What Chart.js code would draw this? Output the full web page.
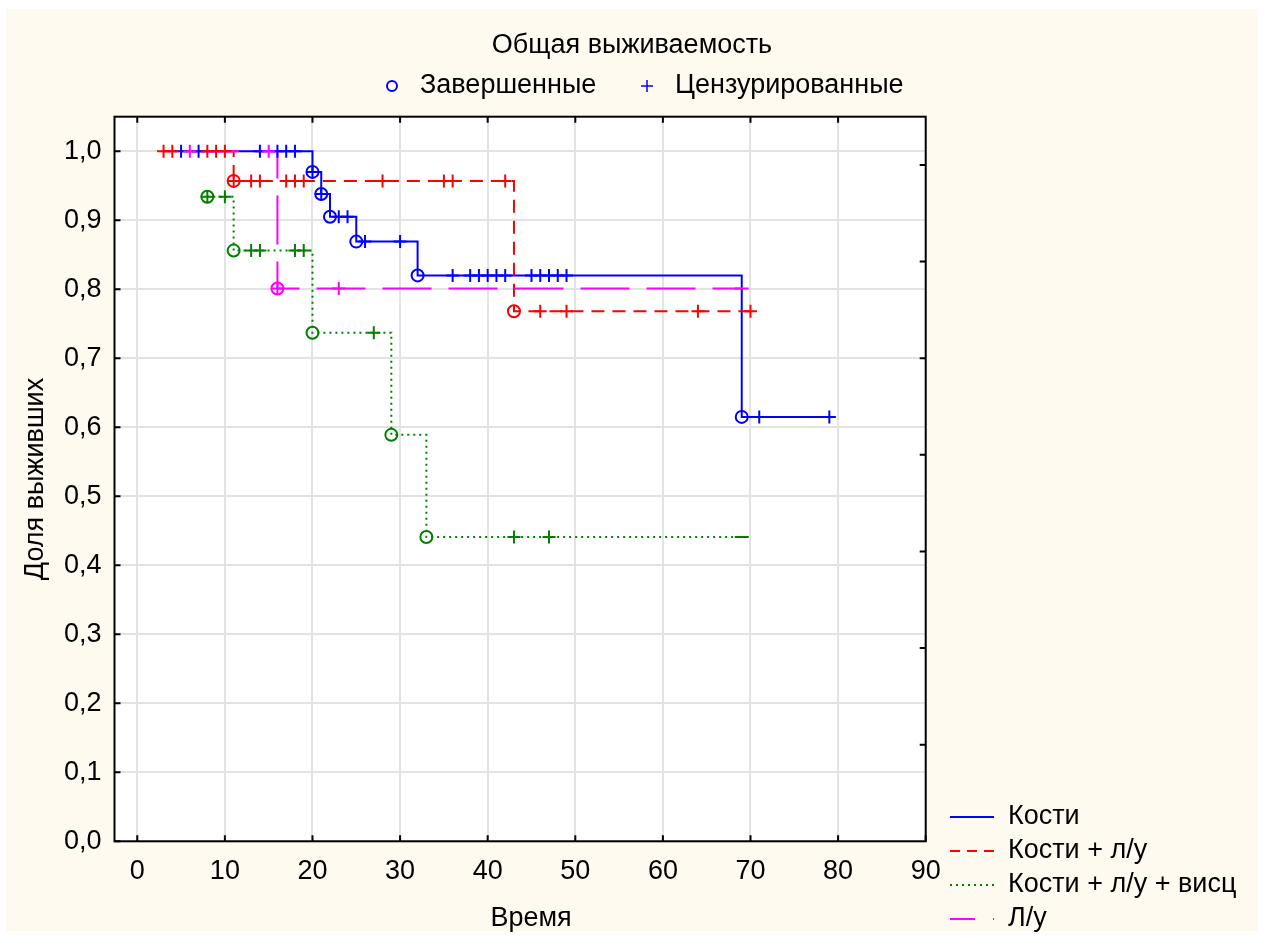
<!DOCTYPE html>
<html>
<head>
<meta charset="utf-8">
<title>Общая выживаемость</title>
<script src="https://cdn.jsdelivr.net/npm/chart.js@4.4.0/dist/chart.umd.min.js"></script>
<style>
  html, body { margin: 0; padding: 0; background: #ffffff; }
  canvas { display: block; }
</style>
</head>
<body>
<canvas id="km" width="1264" height="941"></canvas>
<script>
// ---- Kaplan–Meier curves: step points (time, proportion surviving after that time) ----
const bonesTimes    = [5, 20, 21, 22, 25, 32, 69, 79];
const bonesSurv     = [1.0, 0.970, 0.938, 0.905, 0.869, 0.820, 0.615, 0.615];
const bonesEvents   = [20, 21, 22, 25, 32, 69];
const bonesCensored = [5, 7, 14, 16, 17, 18, 20, 21, 23, 24, 26, 30, 36, 38, 39, 40, 41, 42, 45, 46, 47, 48, 49, 71, 79];

const bonesLnTimes    = [3, 11, 43, 70];
const bonesLnSurv     = [1.0, 0.957, 0.768, 0.768];
const bonesLnEvents   = [11, 43];
const bonesLnCensored = [3, 4, 8, 9, 10, 11, 13, 14, 17, 18, 19, 28, 35, 36, 42, 46, 49, 64, 70];

const visceralTimes    = [8, 11, 20, 29, 33, 69];
const visceralSurv     = [0.934, 0.856, 0.737, 0.589, 0.441, 0.441];
const visceralEvents   = [8, 11, 20, 29, 33];
const visceralCensored = [8, 10, 13, 14, 18, 19, 27, 43, 47];
const visceralEnd      = [69];

const lnTimes    = [6, 16, 69];
const lnSurv     = [1.0, 0.801, 0.801];
const lnEvents   = [16];
const lnCensored = [6, 15, 16, 23];
const lnEnd      = [69];

// ---- axis ticks ----
const xTicks     = [0, 10, 20, 30, 40, 50, 60, 70, 80, 90];
const topTicks   = [0, 10, 20, 30, 40, 50, 60, 70, 80];
const yTicks     = [0, 0.1, 0.2, 0.3, 0.4, 0.5, 0.6, 0.7, 0.8, 0.9, 1.0];
const rightTicks = [0.14, 0.28, 0.42, 0.56, 0.70, 0.84, 0.98];

// ---- texts ----
const chartTitle  = 'Общая выживаемость';
const markerNames = ['Завершенные', 'Цензурированные'];
const groupNames  = ['Кости', 'Кости + л/у', 'Кости + л/у + висц', 'Л/у'];
const xTitle = 'Время';
const yTitle = 'Доля выживших';

const FONT = '"Liberation Sans", Arial, "DejaVu Sans", sans-serif';
const FONT_SIZE = 27;
const BLUE = '#0000ff', RED = '#ff0000', GREEN = '#008000', MAGENTA = '#ff00ff';

// survival level in effect at time t (value of the latest step at or before t)
function levelAt(times, surv, t) {
  let v = surv[0];
  for (let i = 0; i < times.length; i++) if (times[i] <= t) v = surv[i];
  return v;
}

function stepLine(label, times, surv, color, dash, order) {
  return {
    type: 'line', label, order,
    data: times.map((t, i) => ({ x: t, y: surv[i] })),
    borderColor: color, borderWidth: 2, borderDash: dash,
    stepped: true, pointRadius: 0, fill: false, tension: 0
  };
}

function marks(label, ts, times, surv, color, style, r, order) {
  return {
    type: 'scatter', label, order,
    data: ts.map(t => ({ x: t, y: levelAt(times, surv, t) })),
    showLine: false,
    pointStyle: style, pointRadius: r, pointHoverRadius: r,
    pointBorderColor: color, borderColor: color,
    pointBackgroundColor: 'rgba(0,0,0,0)', backgroundColor: 'rgba(0,0,0,0)',
    pointBorderWidth: 2, borderWidth: 2
  };
}

const datasets = [
  stepLine(groupNames[0], bonesTimes, bonesSurv, BLUE, [], 13),
  stepLine(groupNames[1], bonesLnTimes, bonesLnSurv, RED, [13, 8], 12),
  stepLine(groupNames[2], visceralTimes, visceralSurv, GREEN, [2, 4], 11),
  stepLine(groupNames[3], lnTimes, lnSurv, MAGENTA, [49, 17], 10),

  marks('Кости: завершенные', bonesEvents, bonesTimes, bonesSurv, BLUE, 'circle', 6, 3),
  marks('Кости: цензурированные', bonesCensored, bonesTimes, bonesSurv, BLUE, 'cross', 6.5, 3),
  marks('Кости + л/у: завершенные', bonesLnEvents, bonesLnTimes, bonesLnSurv, RED, 'circle', 6, 2),
  marks('Кости + л/у: цензурированные', bonesLnCensored, bonesLnTimes, bonesLnSurv, RED, 'cross', 6.5, 2),
  marks('висц: завершенные', visceralEvents, visceralTimes, visceralSurv, GREEN, 'circle', 6, 1),
  marks('висц: цензурированные', visceralCensored, visceralTimes, visceralSurv, GREEN, 'cross', 6.5, 1),
  marks('висц: конец', visceralEnd, visceralTimes, visceralSurv, GREEN, 'line', 7, 1),
  marks('Л/у: завершенные', lnEvents, lnTimes, lnSurv, MAGENTA, 'circle', 6, 0),
  marks('Л/у: цензурированные', lnCensored, lnTimes, lnSurv, MAGENTA, 'cross', 6.5, 0),
  marks('Л/у: конец', lnEnd, lnTimes, lnSurv, MAGENTA, 'line', 7, 0)
];

// frame, inward tick marks, titles and legends
const decor = {
  id: 'decor',
  beforeDraw(chart) {
    const { ctx, chartArea: a } = chart;
    ctx.save();
    ctx.fillStyle = '#ffffff';
    ctx.fillRect(0, 0, chart.width, chart.height);
    ctx.fillStyle = '#fffaf0';
    ctx.fillRect(6, 9, 1252, 922);
    ctx.fillStyle = '#ffffff';
    ctx.fillRect(a.left, a.top, a.right - a.left, a.bottom - a.top);
    ctx.restore();
  },
  afterDraw(chart) {
    const { ctx, chartArea: a, scales: { x, y } } = chart;
    ctx.save();

    // plot frame
    ctx.strokeStyle = '#000000';
    ctx.lineWidth = 2;
    ctx.strokeRect(a.left, a.top, a.right - a.left, a.bottom - a.top);

    // tick marks pointing into the plot on all four sides
    const tl = 6;
    ctx.beginPath();
    xTicks.forEach(v => { const p = x.getPixelForValue(v); ctx.moveTo(p, a.bottom); ctx.lineTo(p, a.bottom - tl); });
    topTicks.forEach(v => { const p = x.getPixelForValue(v); ctx.moveTo(p, a.top); ctx.lineTo(p, a.top + tl); });
    yTicks.forEach(v => { const p = y.getPixelForValue(v); ctx.moveTo(a.left, p); ctx.lineTo(a.left + tl, p); });
    rightTicks.forEach(v => { const p = y.getPixelForValue(v); ctx.moveTo(a.right, p); ctx.lineTo(a.right - tl, p); });
    ctx.stroke();

    ctx.fillStyle = '#000000';
    ctx.font = FONT_SIZE + 'px ' + FONT;
    ctx.textBaseline = 'middle';

    // chart title
    ctx.textAlign = 'center';
    ctx.fillText(chartTitle, 632, 46);

    // marker legend
    ctx.textAlign = 'left';
    ctx.strokeStyle = BLUE;
    ctx.lineWidth = 2;
    ctx.beginPath();
    ctx.arc(392, 86, 5, 0, Math.PI * 2);
    ctx.stroke();
    ctx.fillText(markerNames[0], 420, 86);
    ctx.lineWidth = 1.5;
    ctx.beginPath();
    ctx.moveTo(641, 86); ctx.lineTo(653, 86);
    ctx.moveTo(647, 80); ctx.lineTo(647, 92);
    ctx.stroke();
    ctx.fillText(markerNames[1], 675, 86);

    // axis titles
    ctx.textAlign = 'center';
    ctx.fillText(xTitle, 531, 919);
    ctx.save();
    ctx.translate(36, (a.top + a.bottom) / 2);
    ctx.rotate(-Math.PI / 2);
    ctx.fillText(yTitle, 0, 0);
    ctx.restore();

    // group legend
    const rows = [
      { color: BLUE, dash: [] },
      { color: RED, dash: [10, 7] },
      { color: GREEN, dash: [2, 4] },
      { color: MAGENTA, dash: [25, 18] }
    ];
    ctx.textAlign = 'left';
    rows.forEach((r, i) => {
      const yy = 817 + i * 34;
      ctx.strokeStyle = r.color;
      ctx.lineWidth = 2;
      ctx.setLineDash(r.dash);
      ctx.beginPath();
      ctx.moveTo(950, yy); ctx.lineTo(994, yy);
      ctx.stroke();
      ctx.setLineDash([]);
      ctx.fillText(groupNames[i], 1008, yy);
    });

    ctx.restore();
  }
};

new Chart(document.getElementById('km'), {
  type: 'scatter',
  data: { datasets },
  options: {
    responsive: false,
    animation: false,
    devicePixelRatio: 1,
    layout: { padding: { left: 0, top: 116.7, right: 338.3, bottom: 0 } },
    plugins: {
      legend: { display: false },
      title: { display: false },
      tooltip: { enabled: false }
    },
    scales: {
      x: {
        type: 'linear', position: 'bottom', min: -2.6, max: 90,
        afterBuildTicks: s => { s.ticks = xTicks.map(v => ({ value: v })); },
        afterFit: s => { s.height = 99.7; },
        grid: { color: '#e3e3e3', lineWidth: 2, drawTicks: false },
        border: { display: false },
        ticks: {
          color: '#000000', padding: 14, maxRotation: 0, autoSkip: false,
          font: { family: FONT, size: FONT_SIZE },
          callback: v => String(v)
        }
      },
      y: {
        type: 'linear', position: 'left', min: 0, max: 1.05,
        afterBuildTicks: s => { s.ticks = yTicks.map(v => ({ value: v })); },
        afterFit: s => { s.width = 114.5; },
        grid: { color: '#e3e3e3', lineWidth: 2, drawTicks: false },
        border: { display: false },
        ticks: {
          color: '#000000', padding: 13, autoSkip: false,
          font: { family: FONT, size: FONT_SIZE },
          callback: v => v.toFixed(1).replace('.', ',')
        }
      }
    }
  },
  plugins: [decor]
});
</script>
</body>
</html>
